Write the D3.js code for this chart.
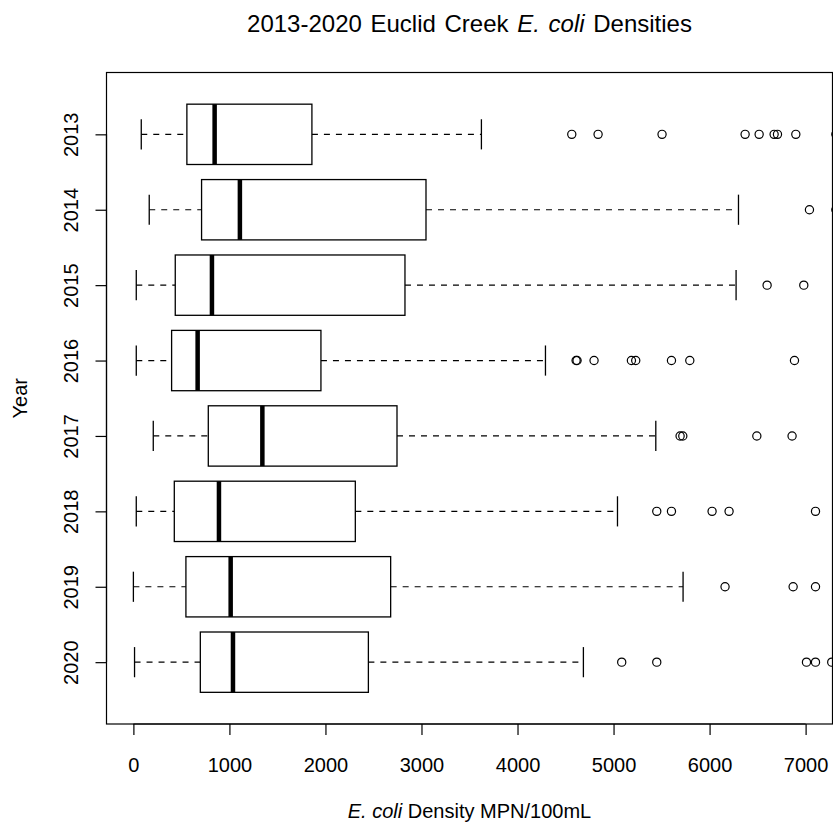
<!DOCTYPE html>
<html>
<head>
<meta charset="utf-8">
<script src="https://cdn.jsdelivr.net/npm/d3@7"></script>
<style>
  html, body { margin: 0; padding: 0; background: #fff; }
  svg { display: block; }
  text { font-family: "Liberation Sans", Arial, sans-serif; fill: #000; }
</style>
</head>
<body>
<svg id="chart" width="833" height="825"></svg>
<script>
// ---- data ----
const years        = ["2013", "2014", "2015", "2016", "2017", "2018", "2019", "2020"];
const lowerWhisker = [82, 165, 30, 30, 207, 30, 0, 12];
const q1           = [557, 710, 436, 398, 780, 426, 547, 697];
const medians      = [846, 1109, 818, 669, 1343, 891, 1013, 1037];
const q3           = [1859, 3047, 2828, 1953, 2745, 2311, 2679, 2447];
const upperWhisker = [3624, 6301, 6276, 4291, 5440, 5041, 5724, 4686];
const outliers = [
  [4565, 4839, 5505, 6370, 6516, 6672, 6707, 6898, 7315],
  [7040, 7315],
  [6599, 6981],
  [4610, 4620, 4797, 5186, 5231, 5603, 5794, 6884],
  [5693, 5721, 6492, 6859],
  [5450, 5603, 6026, 6203, 7103],
  [6161, 6870, 7103],
  [5085, 5450, 7009, 7103, 7272]
];
const xTicks = [0, 1000, 2000, 3000, 4000, 5000, 6000, 7000];

// ---- layout ----
const L = 106.5, R = 832.5, T = 72.5, B = 724;
const svg = d3.select("#chart");
svg.append("rect").attr("width", 833).attr("height", 825).attr("fill", "#fff");

const x = d3.scaleLinear().domain([-280, 7280]).range([L, R]);
const y = d3.scaleLinear().domain([0.18, 8.82]).range([T, B]);
const pos = i => y(i + 1);
const unit = y(2) - y(1);
const boxH = unit * 0.8;
const stapleH = boxH * 0.5;

const g = svg.append("g");

years.forEach((yr, i) => {
  const cy = pos(i);
  const row = g.append("g");
  // whiskers (dashed)
  row.append("line")
    .attr("x1", x(lowerWhisker[i])).attr("x2", x(q1[i]))
    .attr("y1", cy).attr("y2", cy)
    .attr("stroke", "#000").attr("stroke-width", 1.2).attr("stroke-dasharray", "6,6");
  row.append("line")
    .attr("x1", x(q3[i])).attr("x2", x(upperWhisker[i]))
    .attr("y1", cy).attr("y2", cy)
    .attr("stroke", "#000").attr("stroke-width", 1.2).attr("stroke-dasharray", "6,6");
  // staples
  [lowerWhisker[i], upperWhisker[i]].forEach(v => {
    row.append("line")
      .attr("x1", x(v)).attr("x2", x(v))
      .attr("y1", cy - stapleH / 2).attr("y2", cy + stapleH / 2)
      .attr("stroke", "#000").attr("stroke-width", 1.3);
  });
  // box
  row.append("rect")
    .attr("x", x(q1[i])).attr("y", cy - boxH / 2)
    .attr("width", x(q3[i]) - x(q1[i])).attr("height", boxH)
    .attr("fill", "#fff").attr("stroke", "#000").attr("stroke-width", 1.3);
  // median
  row.append("line")
    .attr("x1", x(medians[i])).attr("x2", x(medians[i]))
    .attr("y1", cy - boxH / 2).attr("y2", cy + boxH / 2)
    .attr("stroke", "#000").attr("stroke-width", 4.5);
  // outliers
  row.selectAll("circle").data(outliers[i]).enter().append("circle")
    .attr("cx", d => x(d)).attr("cy", cy).attr("r", 4.1)
    .attr("fill", "none").attr("stroke", "#000").attr("stroke-width", 1.2);
});

// frame
svg.append("rect")
  .attr("x", L).attr("y", T).attr("width", R - L).attr("height", B - T)
  .attr("fill", "none").attr("stroke", "#000").attr("stroke-width", 1.2);

// x axis
const xAxis = d3.axisBottom(x).tickValues(xTicks).tickSize(11).tickPadding(21)
  .tickFormat(d3.format("d"));
const xg = svg.append("g").attr("transform", `translate(0,${B})`).call(xAxis);
xg.select(".domain").attr("d", `M${x(0)},0H${x(7000)}`).attr("stroke", "#000").attr("stroke-width", 1.2);
xg.selectAll(".tick line").attr("stroke", "#000").attr("stroke-width", 1.2);
xg.selectAll(".tick text").attr("font-size", 20).attr("font-family", '"Liberation Sans", Arial, sans-serif')
  .attr("fill", "#000").attr("dy", null).attr("y", 47.5);

// y axis
const yBand = d3.scalePoint().domain(years).range([pos(0), pos(7)]);
const yAxis = d3.axisLeft(yBand).tickSize(11).tickPadding(0);
const yg = svg.append("g").attr("transform", `translate(${L},0)`).call(yAxis);
yg.select(".domain").attr("d", `M0,${pos(0)}V${pos(7)}`).attr("stroke", "#000").attr("stroke-width", 1.2);
yg.selectAll(".tick line").attr("stroke", "#000").attr("stroke-width", 1.2);
yg.selectAll(".tick text")
  .attr("font-size", 20).attr("font-family", '"Liberation Sans", Arial, sans-serif').attr("fill", "#000")
  .attr("x", null).attr("dy", null).attr("text-anchor", "middle")
  .attr("transform", "translate(-28.3,0) rotate(-90)").attr("y", 0);

// title
const cx = (L + R) / 2;
const title = svg.append("text").attr("x", cx).attr("y", 31.7)
  .attr("text-anchor", "middle").attr("font-size", 24).attr("word-spacing", 2);
title.append("tspan").text("2013-2020 Euclid Creek ");
title.append("tspan").attr("font-style", "italic").text("E. coli");
title.append("tspan").text(" Densities");

// x label
const xl = svg.append("text").attr("x", cx).attr("y", 817.5)
  .attr("text-anchor", "middle").attr("font-size", 20);
xl.append("tspan").attr("font-style", "italic").text("E. coli");
xl.append("tspan").text(" Density MPN/100mL");

// y label
svg.append("text").attr("transform", `translate(27,${(T + B) / 2}) rotate(-90)`)
  .attr("text-anchor", "middle").attr("font-size", 20).text("Year");
</script>
</body>
</html>
